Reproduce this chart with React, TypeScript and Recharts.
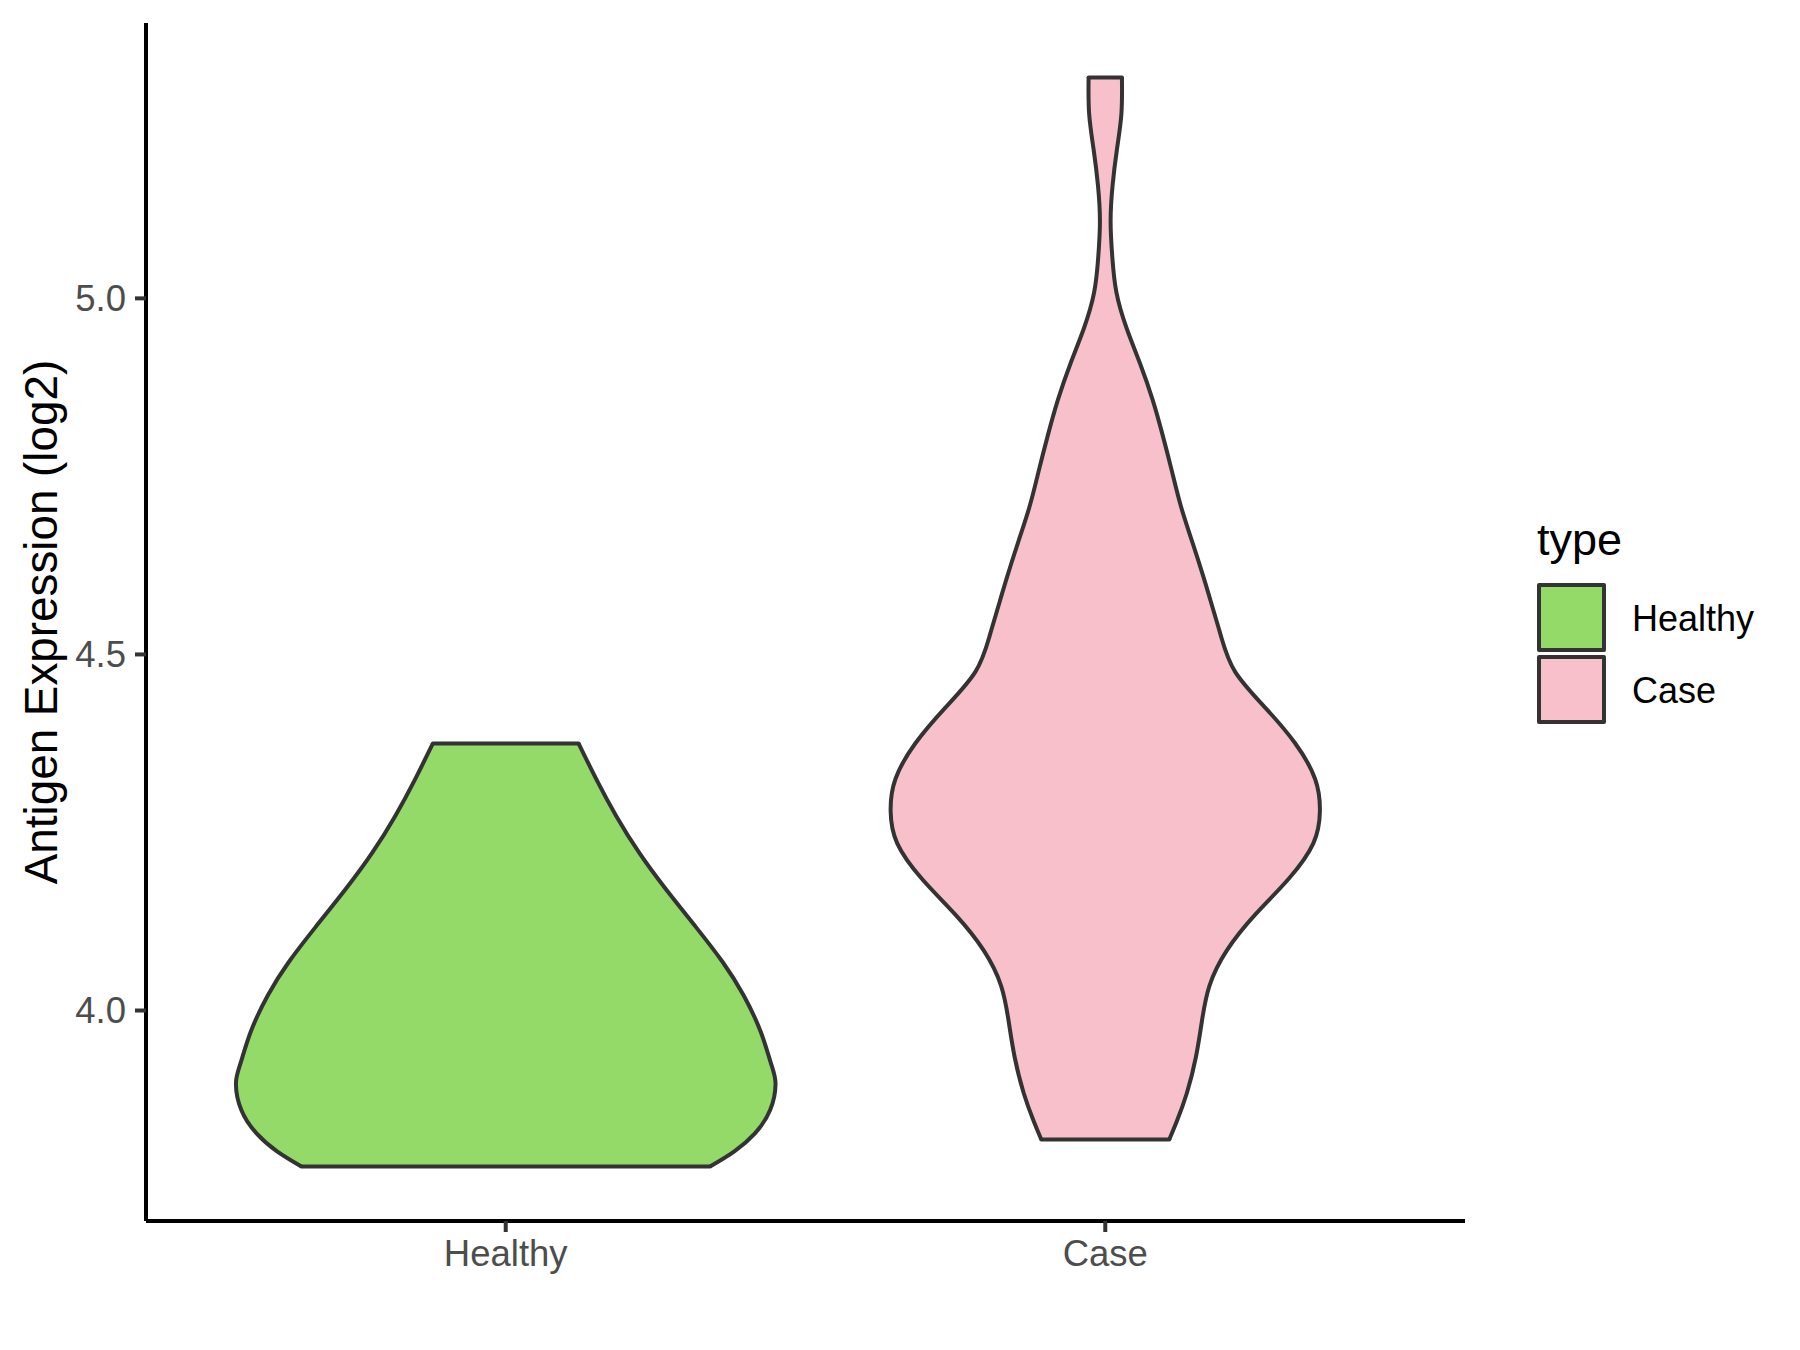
import { ComposedChart, Area, XAxis, YAxis, ReferenceLine, Legend } from "recharts";

// categories and fills
const groups = ["Healthy", "Case"];
const fills = ["#93DA69", "#F7C0CB"];

// violin outlines: expression level -> half width (x units)
const healthyLevels = [
  3.7809, 3.8018, 3.8275, 3.8602, 3.8976, 3.9257, 3.9701, 4.0215, 4.0681,
  4.1171, 4.1709, 4.2223, 4.2736, 4.3228, 4.375,
];
const healthyWidths = [
  0.3408, 0.3808, 0.4157, 0.441, 0.45, 0.4424, 0.4253, 0.3967, 0.3618,
  0.3173, 0.2666, 0.222, 0.184, 0.1523, 0.1215,
];

const caseLevels = [
  3.8188, 3.8437, 3.8838, 3.934, 3.9841, 4.0343, 4.0844, 4.1346, 4.1847,
  4.2348, 4.28, 4.3251, 4.3753, 4.4254, 4.4756, 4.5257, 4.5758, 4.6069,
  4.6571, 4.7073, 4.7574, 4.8076, 4.8577, 4.9079, 4.958, 5.0083, 5.0584,
  5.1086, 5.1587, 5.2089, 5.259, 5.3102,
];
const caseWidths = [
  0.1067, 0.119, 0.136, 0.151, 0.161, 0.1736, 0.2028, 0.25, 0.3056, 0.347,
  0.358, 0.35, 0.3167, 0.2667, 0.2167, 0.193, 0.1755, 0.1645, 0.1455,
  0.1264, 0.1111, 0.0958, 0.0789, 0.0583, 0.0356, 0.0186, 0.0117, 0.0089,
  0.0122, 0.0194, 0.0269, 0.0278,
];

const yTicks = [4.0, 4.5, 5.0];

const FONT = '"Liberation Sans", Arial, Helvetica, sans-serif';
const OUTLINE = "#333333";

function violinRows(levels: number[], widths: number[], pos: number) {
  return levels.map((v, i) => ({ v, span: [pos - widths[i], pos + widths[i]] }));
}

const violins = [
  { name: groups[0], fill: fills[0], rows: violinRows(healthyLevels, healthyWidths, 1) },
  { name: groups[1], fill: fills[1], rows: violinRows(caseLevels, caseWidths, 2) },
];

// ggplot-like expansion: 5% on the continuous axis, 0.6 on the discrete one
const allLevels = [...healthyLevels, ...caseLevels];
const lo = Math.min(...allLevels);
const hi = Math.max(...allLevels);
const pad = (hi - lo) * 0.05;
const yDomain = [lo - pad, hi + pad];
const xDomain = [0.4, groups.length + 0.6];

function YTitle(props: any) {
  const vb = props.viewBox;
  const cy = vb && vb.height ? vb.y + vb.height / 2 : 622;
  const x = 57;
  return (
    <text
      x={x}
      y={cy}
      transform={`rotate(-90, ${x}, ${cy})`}
      textAnchor="middle"
      fontSize={45.8}
      fontFamily={FONT}
      fill="#000000"
    >
      Antigen Expression (log2)
    </text>
  );
}

function TypeLegend() {
  return (
    <svg width={270} height={240} style={{ display: "block" }}>
      <text x={7} y={55} fontSize={45} fontFamily={FONT} fill="#000000">
        type
      </text>
      {groups.map((g, i) => (
        <g key={g}>
          <rect
            x={9}
            y={85 + i * 72}
            width={65}
            height={65}
            fill={fills[i]}
            stroke={OUTLINE}
            strokeWidth={4}
            strokeLinejoin="round"
          />
          <text x={102} y={131 + i * 72} fontSize={36} fontFamily={FONT} fill="#000000">
            {g}
          </text>
        </g>
      ))}
    </svg>
  );
}

export default function App() {
  return (
    <div style={{ position: "absolute", left: 0, top: 0, width: 1800, height: 1350, background: "#ffffff" }}>
      <ComposedChart
        width={1800}
        height={1350}
        layout="vertical"
        margin={{ top: 23, right: 335, bottom: 0, left: 0 }}
      >
        <XAxis
          type="number"
          domain={xDomain}
          ticks={[1, 2]}
          allowDataOverflow
          height={129}
          tickFormatter={(t: number) => groups[Math.round(t) - 1]}
          tick={{ fill: "#4D4D4D", fontSize: 36.5, fontFamily: FONT }}
          tickLine={{ stroke: OUTLINE, strokeWidth: 4 }}
          tickSize={11}
          tickMargin={8}
          axisLine={{ stroke: "#000000", strokeWidth: 4 }}
        />
        <YAxis
          type="number"
          dataKey="v"
          domain={yDomain}
          ticks={yTicks}
          allowDataOverflow
          reversed
          width={146}
          tickFormatter={(t: number) => t.toFixed(1)}
          tick={{ fill: "#4D4D4D", fontSize: 36.5, fontFamily: FONT }}
          tickLine={{ stroke: OUTLINE, strokeWidth: 4 }}
          tickSize={11}
          tickMargin={9}
          axisLine={{ stroke: "#000000", strokeWidth: 4 }}
          label={<YTitle />}
        />
        {violins.map((vl) => (
          <Area
            key={vl.name}
            name={vl.name}
            data={vl.rows}
            dataKey="span"
            type="natural"
            fill={vl.fill}
            fillOpacity={1}
            stroke={OUTLINE}
            strokeWidth={4}
            dot={false}
            activeDot={false}
            isAnimationActive={false}
          />
        ))}
        {violins.flatMap((vl) =>
          [vl.rows[0], vl.rows[vl.rows.length - 1]].map((r, j) => (
            <ReferenceLine
              key={vl.name + j}
              segment={[
                { x: r.span[0], y: r.v },
                { x: r.span[1], y: r.v },
              ]}
              stroke={OUTLINE}
              strokeWidth={4}
              strokeLinecap="round"
            />
          ))
        )}
        <Legend
          layout="vertical"
          align="center"
          verticalAlign="middle"
          content={<TypeLegend />}
          wrapperStyle={{ left: 1530, top: 500, width: 270, height: 240 }}
        />
      </ComposedChart>
    </div>
  );
}
